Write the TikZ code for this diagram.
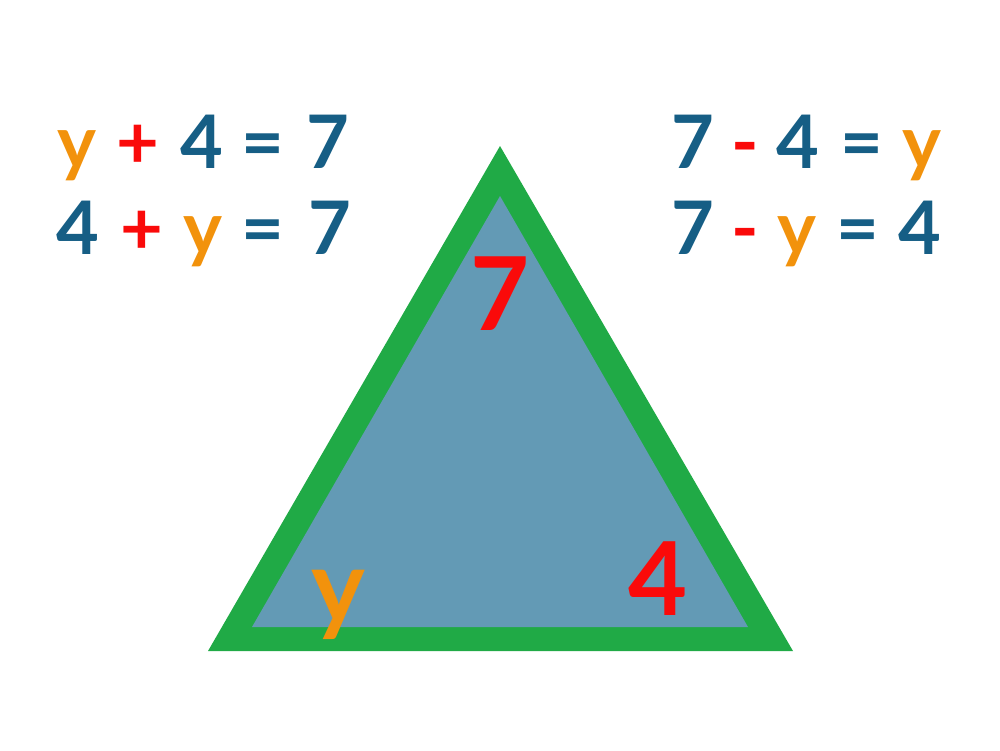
\documentclass[tikz,border=0pt]{standalone}
\usepackage{fontspec}
\setmainfont{Lato}
\definecolor{txtblue}{RGB}{22,94,133}
\definecolor{varorange}{RGB}{242,146,12}
\definecolor{numred}{RGB}{250,10,10}
\definecolor{edgegreen}{RGB}{32,170,70}
\definecolor{facefill}{RGB}{99,154,181}
\tikzset{
  eqn/.style={inner sep=0pt, anchor=base, font=\fontsize{21}{24}\selectfont\bfseries},
  bignum/.style={inner sep=0pt, anchor=base, font=\fontsize{29}{32}\selectfont\bfseries}
}
\begin{document}
\begin{tikzpicture}[x=0.01cm, y=-0.01cm]
			\useasboundingbox (0,0) rectangle (1000,750);
			\path (500,146) coordinate (A) (208,651) coordinate (B) (793,651) coordinate (C);
			\path (500,196) coordinate (a) (252,627) coordinate (b) (748,627) coordinate (c);
			\fill[edgegreen] (A)--(B)--(C)--cycle;
			\fill[facefill] (a)--(b)--(c)--cycle;
			% equations on the left
			\foreach\t/\x/\c [count=\i] in {y/77/varorange,+/138/numred,4/202/txtblue,=/263/txtblue,7/328/txtblue}
			{\node[eqn,text=\c] (L1\i) at (\x,168) {\t};}
			\foreach\t/\x/\c [count=\i] in {4/78/txtblue,+/142/numred,y/203/varorange,=/263/txtblue,7/330/txtblue}
			{\node[eqn,text=\c] (L2\i) at (\x,254) {\t};}
			% equations on the right
			\foreach\t/\x/\c [count=\i] in {7/693/txtblue,-/745/numred,4/798/txtblue,=/862/txtblue,y/922/varorange}
			{\node[eqn,text=\c] (R1\i) at (\x,168) {\t};}
			\foreach\t/\x/\c [count=\i] in {7/693/txtblue,-/745/numred,y/797/varorange,=/858/txtblue,4/920/txtblue}
			{\node[eqn,text=\c] (R2\i) at (\x,254) {\t};}
			% numbers in the triangle
			\node[bignum,text=numred] (top) at (500,330) {7};
			\node[bignum,text=numred] (right) at (658,615) {4};
			\node[bignum,text=varorange] (left) at (338,622) {y};
		\end{tikzpicture}
\end{document}
